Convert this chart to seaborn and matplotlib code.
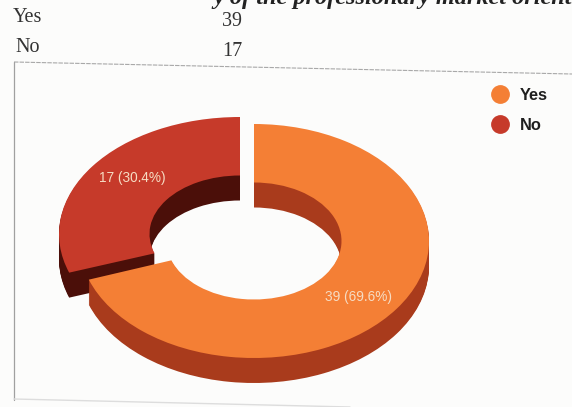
import matplotlib
matplotlib.use("Agg")
import matplotlib.pyplot as plt
import seaborn as sns
import numpy as np
from matplotlib.lines import Line2D
from matplotlib.transforms import Affine2D

categories = ["Yes", "No"]
counts = [39, 17]
header_text = "y of the professionary market orient"

TOP_COLORS = ["#f47f35", "#c63a2a"]
WALL_COLORS = ["#a93b1c", "#4b0f09"]
LABEL_COLOR = "#f6dcc3"
BG = "#fcfcfb"

# ellipse of the donut in pixels, per slice
CENTERS = [(254, 241), (240, 234)]
RADII_X = [175, 181]
RY = 117
DEPTH = 25

sns.set_theme(style="white")
plt.rcParams["font.family"] = ["Liberation Sans", "DejaVu Sans"]

fig = plt.figure(figsize=(5.72, 4.07), dpi=100, facecolor=BG)
ax = fig.add_axes([0, 0, 1, 1], facecolor=BG)

# red slice goes first so the orange corner sits on top of its side
for i in [1, 0]:
    cx, cy = CENTERS[i]
    # stacked copies of the pie make the side walls
    for dy in list(range(DEPTH, 0, -1)) + [0]:
        wedges, _ = ax.pie(
            counts,
            startangle=90,
            counterclock=False,
            wedgeprops={"width": 0.5, "linewidth": 0},
        )
        tr = Affine2D().scale(RADII_X[i], -RY).translate(cx, cy + dy) + ax.transData
        for j, w in enumerate(wedges):
            if j == i:
                w.set_transform(tr)
                w.set_facecolor(TOP_COLORS[i] if dy == 0 else WALL_COLORS[i])
                w.set_zorder(2 + (1 - i) * 2 + (1 if dy == 0 else 0))
            else:
                w.remove()

ax.set_aspect("auto")
ax.set_xlim(0, 572)
ax.set_ylim(407, 0)
ax.set_xticks([])
ax.set_yticks([])
sns.despine(ax=ax, left=True, bottom=True)

# value labels at the middle of each slice
total = sum(counts)
start = 0
for i, val in enumerate(counts):
    mid = np.radians((start + val / 2) / total * 360)
    start += val
    cx, cy = CENTERS[i]
    ax.text(cx + RADII_X[i] * 0.73 * np.sin(mid), cy - RY * 0.82 * np.cos(mid),
            f"{val} ({val / total * 100:.1f}%)", color=LABEL_COLOR,
            fontsize=9.8, ha="center", va="center", zorder=10)

# table lines above the chart
rows_y = [18, 48]
rows_x = [13, 15]
for name, val, y, x in zip(categories, counts, rows_y, rows_x):
    ax.text(x, y, name, family="Liberation Serif", fontsize=14.5, color="#333333", va="center")
    ax.text(232, y + 3, str(val), family="Liberation Serif", fontsize=14.5, color="#333333",
            ha="center", va="center")
ax.text(213, 4, header_text, family="Liberation Serif", fontsize=17.5, fontweight="bold",
        fontstyle="italic", color="#222222", va="baseline", clip_on=True)

# scanned frame of the chart, slightly skewed
ax.plot([14, 572], [62, 74], color="#a8a8a8", lw=0.8, ls=(0, (4, 1)), zorder=1)
ax.plot([14, 14], [62, 400], color="#a0a0a0", lw=0.9, zorder=1)
ax.plot([14, 350], [399, 407], color="#dddddd", lw=1.0, zorder=1)

handles = [
    Line2D([], [], marker="o", ls="", markersize=12.5, color=c, label=n)
    for c, n in zip(TOP_COLORS, categories)
]
leg = ax.legend(handles=handles, loc="upper left", bbox_to_anchor=(492, 88),
                bbox_transform=ax.transData, frameon=False, labelspacing=0.92,
                handlelength=1.0, handletextpad=0.72, borderpad=0, borderaxespad=0,
                prop={"weight": "bold", "size": 11.8})
for t in leg.get_texts():
    t.set_color("#1f1f1f")

fig.savefig("out.png", dpi=100, facecolor=BG)
